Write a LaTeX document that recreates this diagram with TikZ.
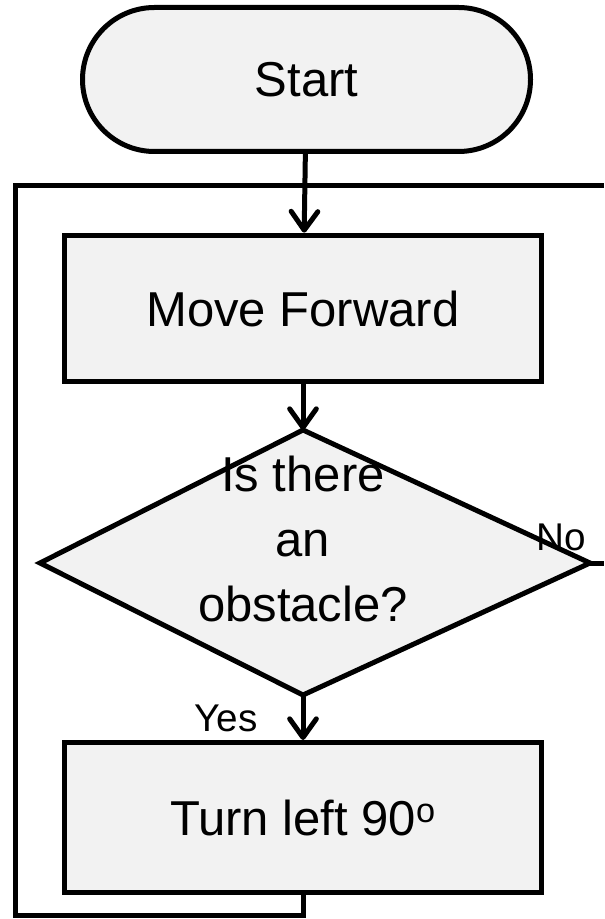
\documentclass[tikz,border=0pt]{standalone}
\usepackage{fontspec}
\setmainfont{Liberation Sans}
\usetikzlibrary{arrows.meta}
\usetikzlibrary{positioning}
\usetikzlibrary{calc}

\definecolor{boxfill}{RGB}{242,242,242}

\tikzset{
  flowline/.style={line width=3.75pt},
  flowarrow/.style={flowline, -{Straight Barb[length=14pt,width=20pt,round]}},
  flowbox/.style={draw, flowline, fill=boxfill, minimum width=357.75pt, minimum height=110pt, inner sep=0pt},
  flowtext/.style={font=\fontsize{36.75}{48.75}\selectfont},
  flowlabel/.style={font=\fontsize{29}{34}\selectfont, inner sep=0pt}
}

\begin{document}
\begin{tikzpicture}[x=0.75pt, y=-0.75pt]
  % page size, in pixels of the reference
  \useasboundingbox (0,0) rectangle (604,919);

  % terminal and process boxes
  \node[flowbox, flowtext, minimum width=336pt, minimum height=108pt, rounded corners=54pt] (start) at (306.5,79.5) {Start};
  \node[flowbox, flowtext] (move) at (303,308.5) {Move Forward};
  \node[flowbox, flowtext, minimum height=112.5pt] (turn) at (303,817.5) {Turn left 90\textsuperscript{o}};

  % decision, drawn from its corners
  \coordinate (test-n) at (303,430);
  \coordinate (test-e) at (590,563);
  \coordinate (test-s) at (303,695);
  \coordinate (test-w) at (40,563);
  \draw[flowline, fill=boxfill, line join=miter] (test-n) -- (test-e) -- (test-s) -- (test-w) -- cycle;
  \node[flowtext, align=center] (test) at (303,539) {Is there\\an\\obstacle?};

  % loop back and the way out
  \coordinate (loop-sw) at (15,915);
  \coordinate (loop-nw) at (15,186);
  \coordinate (loop-ne) at (604,186);
  \coordinate (exit) at (604,563);

  \draw[flowarrow] (start) -- (move);
  \draw[flowarrow] (move) -- (test-n);
  \draw[flowarrow] (test-s) -- (turn);
  \draw[flowline] (turn.south) |- (loop-sw) -- (loop-nw) -- (loop-ne);
  \draw[flowline] (test-e) -- (exit);

  \node[flowlabel] (no) at (561,537) {No};
  \node[flowlabel] (yes) at (226,718) {Yes};
\end{tikzpicture}
\end{document}
